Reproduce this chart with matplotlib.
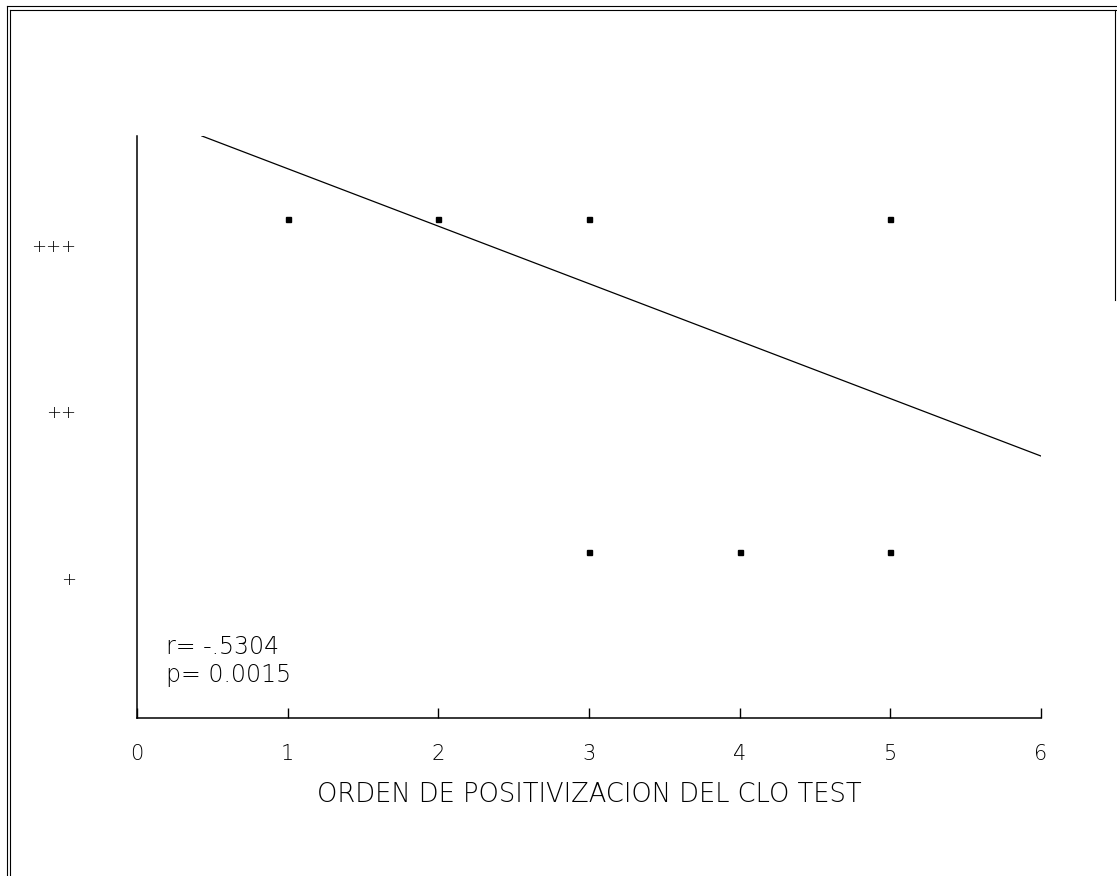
import matplotlib
matplotlib.use("Agg")
import matplotlib.pyplot as plt
from matplotlib.lines import Line2D
from matplotlib.transforms import ScaledTranslation

# ---- data ----
x_vals = [1, 2, 3, 5, 3, 4, 5]
y_vals = [3, 3, 3, 3, 1, 1, 1]
line_x = [0.43, 6.0]
line_y = [3.5, 1.575]
x_ticks = [0, 1, 2, 3, 4, 5, 6]
x_ticklabels = ["0", "1", "2", "3", "4", "5", "6"]
y_ticks = [1, 2, 3]
y_ticklabels = ["+", "++", "+++"]
x_label = "ORDEN DE POSITIVIZACION DEL CLO TEST"
stats_text = ["r= -.5304", "p= 0.0015"]

plt.rcParams['font.family'] = ['DejaVu Sans']

fig = plt.figure(figsize=(11.17, 8.76), dpi=100)
ax = fig.add_axes([0.1227, 0.1804, 0.8093, 0.6644])

ax.plot(line_x, line_y, color='black', lw=0.9)
ax.plot(x_vals, y_vals, 's', color='black', ms=3.6, ls='none')

ax.set_xlim(0, 6)
ax.set_ylim(0, 3.5)
for s in ['top', 'right']:
    ax.spines[s].set_visible(False)
for s in ['left', 'bottom']:
    ax.spines[s].set_linewidth(1.1)

ax.set_xticks(x_ticks)
ax.set_xticklabels(x_ticklabels, fontsize=15, fontweight='light')
ax.tick_params(axis='x', direction='in', length=7, width=1, pad=19)

ax.set_yticks(y_ticks)
ax.set_yticklabels(y_ticklabels, fontsize=13, fontweight='light')
ax.tick_params(axis='y', length=0, pad=44)
off = ScaledTranslation(0, -0.26, fig.dpi_scale_trans)
for lab in ax.get_yticklabels():
    lab.set_transform(lab.get_transform() + off)

ax.set_xlabel(x_label, fontsize=18.5, fontweight='light', labelpad=13)

ax.text(0.193, 0.425, stats_text[0], fontsize=17, fontweight='light', va='center', ha='left')
ax.text(0.193, 0.257, stats_text[1], fontsize=17, fontweight='light', va='center', ha='left')

# outer frame (double lines)
W, H = 1117.0, 876.0
def fl(x0, y0, x1, y1):
    fig.add_artist(Line2D([x0 / W, x1 / W], [1 - y0 / H, 1 - y1 / H],
                          transform=fig.transFigure, color='black', lw=0.8))
fl(7, 6, 7, 876)
fl(10, 10, 10, 876)
fl(7, 6, 1117, 6)
fl(10, 10, 1117, 10)
fl(1115, 10, 1115, 300)

fig.savefig("out.png", dpi=100)
